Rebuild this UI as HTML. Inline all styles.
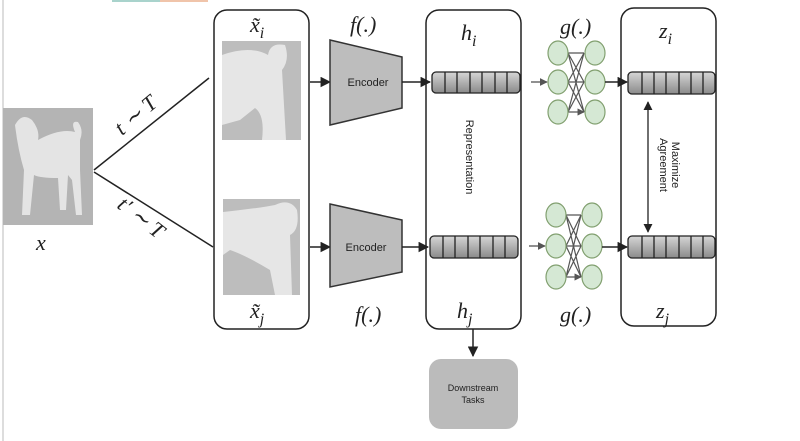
<!DOCTYPE html>
<html><head><meta charset="utf-8"><style>
html,body{margin:0;padding:0;background:#fff;}
svg{display:block;}
.m{font-family:"Liberation Serif",serif;font-style:italic;font-size:22px;fill:#222;}
.s{font-family:"Liberation Sans",sans-serif;fill:#222;}
</style></head><body>
<svg width="800" height="441" viewBox="0 0 800 441" xmlns="http://www.w3.org/2000/svg">
<defs>
<linearGradient id="vg" x1="0" y1="0" x2="0" y2="1"><stop offset="0" stop-color="#d6d6d6"/><stop offset="1" stop-color="#8a8a8a"/></linearGradient>
<marker id="ah" viewBox="0 0 10 10" refX="9" refY="5" markerWidth="7" markerHeight="7" orient="auto-start-reverse"><path d="M0,0 L10,5 L0,10 z" fill="#222"/></marker>
<marker id="ag" viewBox="0 0 10 10" refX="9" refY="5" markerWidth="6" markerHeight="6" orient="auto"><path d="M0,0 L10,5 L0,10 z" fill="#555"/></marker>
</defs>
<rect x="2" y="0" width="2" height="441" fill="#ddd"/>
<rect x="112" y="0" width="48" height="2" fill="#a9d3cc"/>
<rect x="160" y="0" width="48" height="2" fill="#f0c4aa"/>

<rect x="3" y="108" width="90" height="117" fill="#b4b4b4"/>
<path d="M15,125 Q22,112 32,120 Q40,130 38,140 Q60,128 75,132 Q70,120 78,122 Q84,130 80,140 L80,170 L82,215 L76,215 L72,180 L68,175 L66,210 L60,210 L58,178 Q40,178 34,175 L30,215 L22,215 L24,170 Q18,150 15,125 z" fill="#e4e4e4"/>
<text x="36" y="250" class="m">x</text>

<line x1="94" y1="170" x2="209" y2="78" stroke="#222" stroke-width="1.5"/>
<line x1="94" y1="172" x2="213" y2="247" stroke="#222" stroke-width="1.5"/>
<text x="0" y="0" class="m" font-size="28" transform="translate(122,136) rotate(-40)">t ∼ T</text>
<text x="0" y="0" class="m" font-size="28" transform="translate(116,207) rotate(38)">t′ ∼ T</text>

<rect x="214" y="10" width="95" height="319" rx="13" fill="none" stroke="#222" stroke-width="1.5"/>
<rect x="222" y="41" width="79" height="99" fill="#bdbdbd"/>
<path d="M222,55 Q250,45 268,55 Q270,42 285,45 Q290,60 282,70 L286,140 L262,140 Q265,115 255,108 L240,120 L222,125 z" fill="#e6e6e6"/>
<rect x="223" y="199" width="77" height="96" fill="#bdbdbd"/>
<path d="M223,212 Q260,208 275,205 Q290,198 297,210 Q300,230 290,235 L292,295 L275,295 L270,270 Q245,255 230,250 L223,255 z" fill="#e6e6e6"/>
<text x="250" y="32" class="m" font-size="25">x̃<tspan font-size="16" dy="6">i</tspan></text>
<text x="250" y="318" class="m" font-size="25">x̃<tspan font-size="16" dy="6">j</tspan></text>

<line x1="310" y1="82" x2="330" y2="82" stroke="#222" stroke-width="1.5" marker-end="url(#ah)"/>
<line x1="310" y1="247" x2="330" y2="247" stroke="#222" stroke-width="1.5" marker-end="url(#ah)"/>
<polygon points="330,40 402,57 402,108 330,125" fill="#bdbdbd" stroke="#333" stroke-width="1.5"/>
<polygon points="330,204 402,220 402,272 330,287" fill="#bdbdbd" stroke="#333" stroke-width="1.5"/>
<text x="368" y="86" class="s" font-size="11" text-anchor="middle">Encoder</text>
<text x="366" y="251" class="s" font-size="11" text-anchor="middle">Encoder</text>
<text x="350" y="32" class="m" font-size="24">f(.)</text>
<text x="355" y="322" class="m" font-size="24">f(.)</text>
<line x1="402" y1="82" x2="430" y2="82" stroke="#222" stroke-width="1.5" marker-end="url(#ah)"/>
<line x1="402" y1="247" x2="428" y2="247" stroke="#222" stroke-width="1.5" marker-end="url(#ah)"/>

<rect x="426" y="10" width="95" height="319" rx="13" fill="none" stroke="#222" stroke-width="1.5"/>
<g stroke="#222" stroke-width="1.3">
<rect x="432" y="72" width="88" height="21" rx="4" fill="url(#vg)"/>
<path d="M445,72v21M457,72v21M470,72v21M482,72v21M495,72v21M507,72v21" />
<rect x="430" y="236" width="88" height="22" rx="4" fill="url(#vg)"/>
<path d="M443,236v22M455,236v22M468,236v22M480,236v22M493,236v22M505,236v22" />
</g>
<text x="461" y="40" class="m" font-size="26">h<tspan font-size="16" dy="6">i</tspan></text>
<text x="457" y="318" class="m" font-size="26">h<tspan font-size="16" dy="6">j</tspan></text>
<text x="0" y="0" class="s" font-size="11" text-anchor="middle" transform="translate(466,157) rotate(90)">Representation</text>
<line x1="473" y1="329" x2="473" y2="356" stroke="#222" stroke-width="1.5" marker-end="url(#ah)"/>
<rect x="429" y="359" width="89" height="70" rx="12" fill="#bbb"/>
<text x="473" y="391" class="s" font-size="9" text-anchor="middle">Downstream</text>
<text x="473" y="403" class="s" font-size="9" text-anchor="middle">Tasks</text>

<line x1="531" y1="82" x2="547" y2="82" stroke="#555" stroke-width="1.3" marker-end="url(#ag)"/>
<line x1="529" y1="246" x2="545" y2="246" stroke="#555" stroke-width="1.3" marker-end="url(#ag)"/>
<g stroke="#555" stroke-width="1.2">
<path d="M568,53L584,53M568,53L584,82M568,53L584,112M568,82L584,53M568,82L584,82M568,82L584,112M568,112L584,53M568,112L584,82M568,112L584,112" marker-end="url(#ag)"/>
<path d="M566,215L581,215M566,215L581,246M566,215L581,277M566,246L581,215M566,246L581,246M566,246L581,277M566,277L581,215M566,277L581,246M566,277L581,277" marker-end="url(#ag)"/>
</g>
<g fill="#d5e8d4" stroke="#82a070" stroke-width="1.2">
<ellipse cx="558" cy="53" rx="10" ry="12"/><ellipse cx="558" cy="82" rx="10" ry="12"/><ellipse cx="558" cy="112" rx="10" ry="12"/>
<ellipse cx="595" cy="53" rx="10" ry="12"/><ellipse cx="595" cy="82" rx="10" ry="12"/><ellipse cx="595" cy="112" rx="10" ry="12"/>
<ellipse cx="556" cy="215" rx="10" ry="12"/><ellipse cx="556" cy="246" rx="10" ry="12"/><ellipse cx="556" cy="277" rx="10" ry="12"/>
<ellipse cx="592" cy="215" rx="10" ry="12"/><ellipse cx="592" cy="246" rx="10" ry="12"/><ellipse cx="592" cy="277" rx="10" ry="12"/>
</g>
<text x="560" y="34" class="m" font-size="22">g(.)</text>
<text x="560" y="322" class="m" font-size="22">g(.)</text>
<line x1="605" y1="82" x2="627" y2="82" stroke="#222" stroke-width="1.5" marker-end="url(#ah)"/>
<line x1="602" y1="247" x2="627" y2="247" stroke="#222" stroke-width="1.5" marker-end="url(#ah)"/>

<rect x="621" y="8" width="95" height="318" rx="13" fill="none" stroke="#222" stroke-width="1.5"/>
<g stroke="#222" stroke-width="1.3">
<rect x="628" y="72" width="87" height="22" rx="4" fill="url(#vg)"/>
<path d="M642,72v22M654,72v22M666,72v22M679,72v22M691,72v22M703,72v22"/>
<rect x="628" y="236" width="87" height="22" rx="4" fill="url(#vg)"/>
<path d="M642,236v22M654,236v22M666,236v22M679,236v22M691,236v22M703,236v22"/>
</g>
<text x="659" y="38" class="m" font-size="26">z<tspan font-size="16" dy="6">i</tspan></text>
<text x="656" y="318" class="m" font-size="26">z<tspan font-size="16" dy="6">j</tspan></text>
<line x1="648" y1="102" x2="648" y2="232" stroke="#222" stroke-width="1.3" marker-start="url(#ah)" marker-end="url(#ah)"/>
<text x="0" y="0" class="s" font-size="11" text-anchor="middle" transform="translate(672,165) rotate(90)">Maximize</text>
<text x="0" y="0" class="s" font-size="11" text-anchor="middle" transform="translate(660,165) rotate(90)">Agreement</text>
</svg>
</body></html>
